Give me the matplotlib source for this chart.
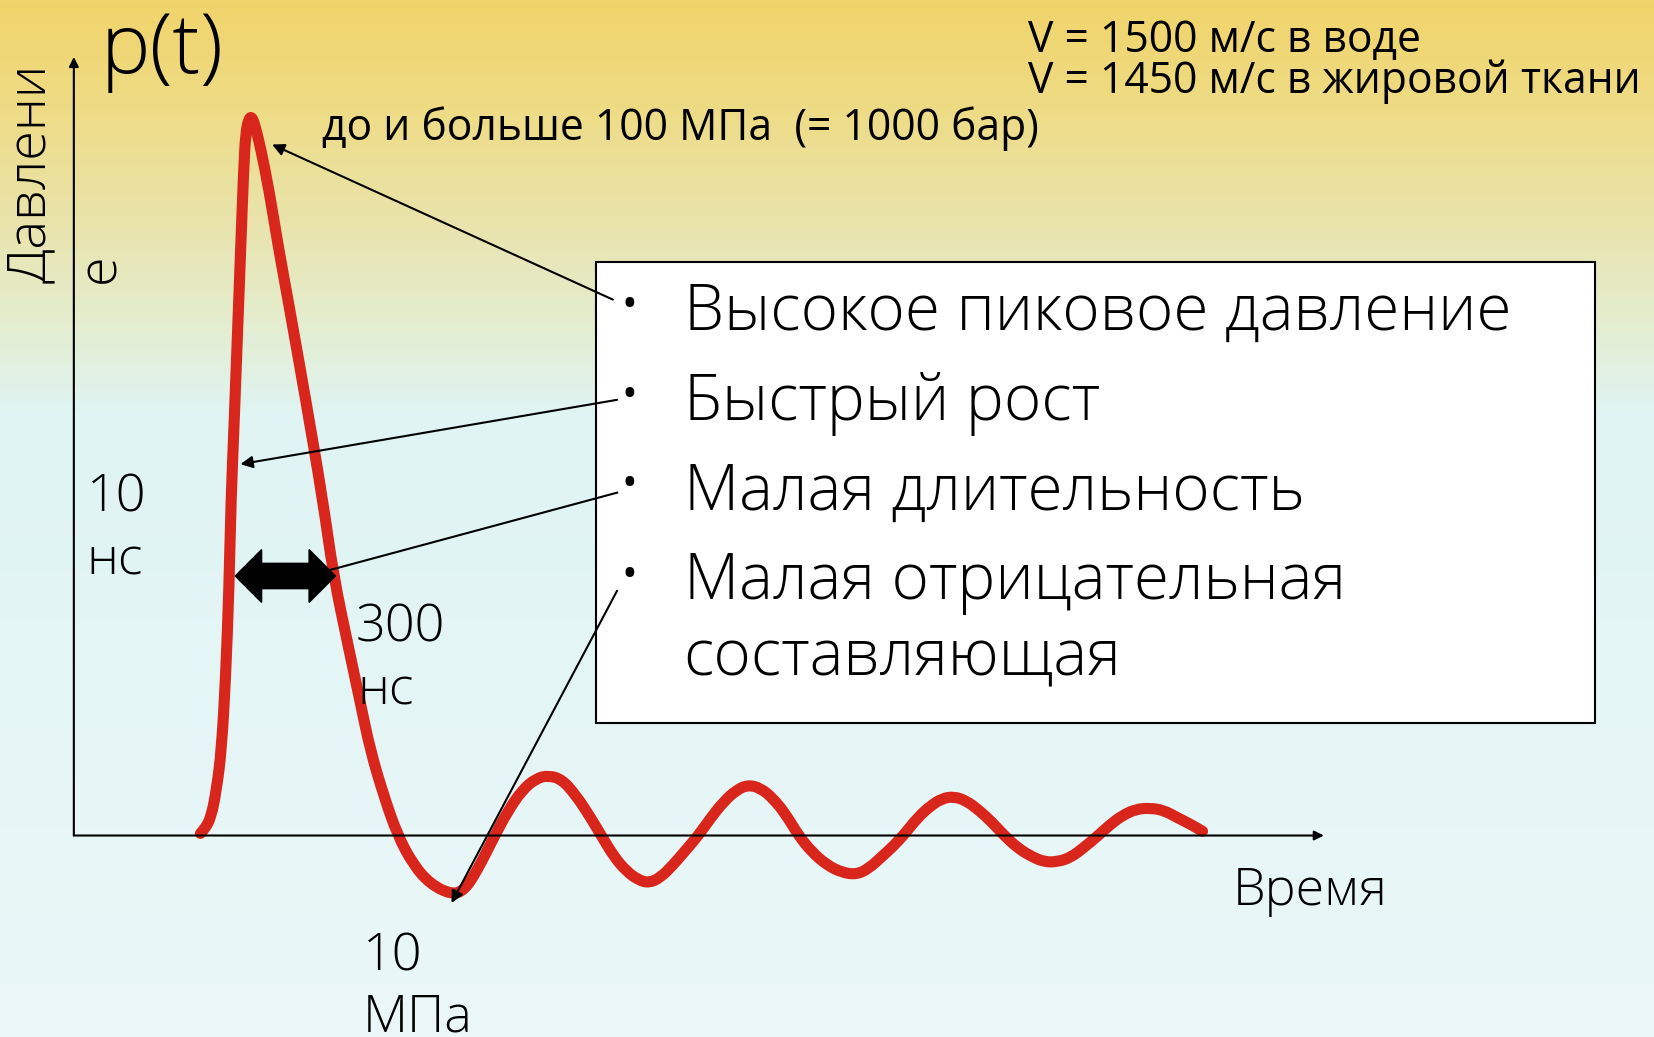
import numpy as np
import matplotlib
matplotlib.use("Agg")
import matplotlib.pyplot as plt
from matplotlib.patches import Rectangle, PathPatch
from matplotlib.path import Path
from matplotlib.colors import LinearSegmentedColormap

plt.rcParams['font.family'] = ['Open Sans', 'DejaVu Sans']

# --- pressure pulse (arbitrary units) ---
t = [120, 124, 130, 135, 140, 144, 147, 149, 152, 155, 158, 161, 163, 166, 169, 172,
     177, 185, 194, 203, 220, 236, 246, 260, 272, 281, 294, 307, 322, 338, 358, 370,
     382, 399, 412, 425, 438, 450, 463, 476, 488, 500, 512, 524, 535, 545, 556, 568,
     580, 592, 604, 616, 628, 639, 651, 663, 675, 687, 700, 714, 728, 742, 754, 766,
     777, 788, 800, 812, 823, 834, 846, 858, 870, 882, 895, 908, 920, 932, 945, 958,
     970, 982, 994, 1007, 1020, 1033, 1046, 1058, 1070]
p = [2, 6, 17, 42, 81, 152, 232, 318, 392, 472, 552, 632, 667, 680, 681, 672,
     652, 612, 557, 508, 412, 318, 247, 180, 124, 81, 37, 0, -28, -46, -56, -52,
     -34, 0, 24, 43, 54, 57, 53, 38, 20, 0, -20, -34, -42, -45, -40, -28,
     -14, 0, 17, 32, 43, 48, 45, 35, 20, 0, -16, -28, -35, -37, -31, -20,
     -10, 2, 17, 28, 35, 37, 33, 24, 13, 0, -12, -20, -25, -25, -21, -11,
     -1, 10, 19, 25, 26, 24, 17, 11, 4]

bullets = ["Высокое пиковое давление", "Быстрый рост", "Малая длительность",
           "Малая отрицательная\nсоставляющая"]

fig = plt.figure(figsize=(16.54, 10.37), dpi=100)
ax = fig.add_axes([0, 0, 1, 1])
ax.set_xlim(-70, 1498)
ax.set_ylim(-191, 792)
ax.axis("off")

# background gradient (yellow -> light cyan)
bg = LinearSegmentedColormap.from_list("bg", [
    (0.0, "#f1d46a"), (0.1, "#eedb84"), (0.22, "#e9e4ae"),
    (0.32, "#e3eed3"), (0.4, "#dff4f3"), (1.0, "#ebf7f8")])
ax.imshow(np.linspace(0, 1, 256).reshape(-1, 1), cmap=bg, aspect="auto",
          extent=[-70, 1498, -191, 792], zorder=0)

# curve: smooth quadratic path through the read points
pts = np.column_stack([t, p]).astype(float)
verts = [pts[0]]
codes = [Path.MOVETO]
for i in range(1, len(pts) - 1):
    verts += [pts[i], (pts[i] + pts[i + 1]) / 2]
    codes += [Path.CURVE3, Path.CURVE3]
verts.append(pts[-1])
codes.append(Path.LINETO)
ax.add_patch(PathPatch(Path(verts, codes), fill=False, edgecolor="#d9261c",
                       lw=8, capstyle="round", joinstyle="round", zorder=2))

# axes arrows
ax.annotate("", xy=(0, 738), xytext=(0, 0),
            arrowprops=dict(arrowstyle="-|>", lw=1.5, color="black",
                            mutation_scale=14, shrinkA=0, shrinkB=0), zorder=3)
ax.annotate("", xy=(1185, 0), xytext=(0, 0),
            arrowprops=dict(arrowstyle="-|>", lw=1.5, color="black",
                            mutation_scale=14, shrinkA=0, shrinkB=0), zorder=3)

# double arrow for the duration
for end in (153, 248):
    ax.arrow(200.5, 246, end - 200.5, 0, width=24, head_width=50, head_length=25,
             length_includes_head=True, color="black", zorder=4)

# text box
ax.add_patch(Rectangle((495, 107), 947, 437, facecolor="white",
                       edgecolor="black", lw=1.5, zorder=3))
text_kw = dict(fontsize=46, fontweight="light", va="baseline", zorder=5)
ax.text(578, 479, bullets[0], **text_kw)
ax.text(578, 394, bullets[1], **text_kw)
ax.text(578, 309, bullets[2], **text_kw)
lines4 = bullets[3].split("\n")
ax.text(578, 224, lines4[0], **text_kw)
ax.text(578, 152, lines4[1], **text_kw)
for yb in (502, 417, 332, 246):
    ax.text(527, yb, "•", fontsize=30, ha="center", va="center", zorder=5)

# annotation arrows
arrow_kw = dict(arrowstyle="-|>", lw=1.5, color="black", mutation_scale=18,
                shrinkA=0, shrinkB=0)
ax.annotate("", xy=(188, 655), xytext=(511, 508), arrowprops=arrow_kw, zorder=6)
ax.annotate("", xy=(158, 352), xytext=(515, 413), arrowprops=arrow_kw, zorder=6)
ax.plot([515, 244], [325, 252], color="black", lw=1.5, zorder=6)
ax.annotate("", xy=(358, -64), xytext=(515, 232), arrowprops=arrow_kw, zorder=6)

# labels
light = dict(fontweight="light", va="baseline", zorder=5)
ax.text(25, 723, "p(t)", fontsize=60, **light)
ax.text(-40, 524, "Давлени", fontsize=39, fontweight="light", rotation=90,
        ha="center", va="bottom", zorder=5)
ax.text(25, 524, "е", fontsize=39, fontweight="light", rotation=90,
        ha="center", va="bottom", zorder=5)
ax.text(12, 307, "10", fontsize=37.5, **light)
ax.text(12, 247, "нс", fontsize=37.5, **light)
ax.text(267, 184, "300", fontsize=37.5, **light)
ax.text(269, 124, "нс", fontsize=37.5, **light)
ax.text(274, -128, "10", fontsize=37.5, **light)
ax.text(274, -186, "МПа", fontsize=37.5, **light)
ax.text(1099, -66, "Время", fontsize=37.5, **light)

ax.text(235, 659, "до и больше 100 МПа  (= 1000 бар)", fontsize=30.7,
        va="baseline", zorder=5)
ax.text(905, 743, "V = 1500 м/с в воде", fontsize=30.7, va="baseline", zorder=5)
ax.text(905, 704, "V = 1450 м/с в жировой ткани", fontsize=30.7, va="baseline",
        zorder=5)

fig.savefig("out.png", dpi=100)
